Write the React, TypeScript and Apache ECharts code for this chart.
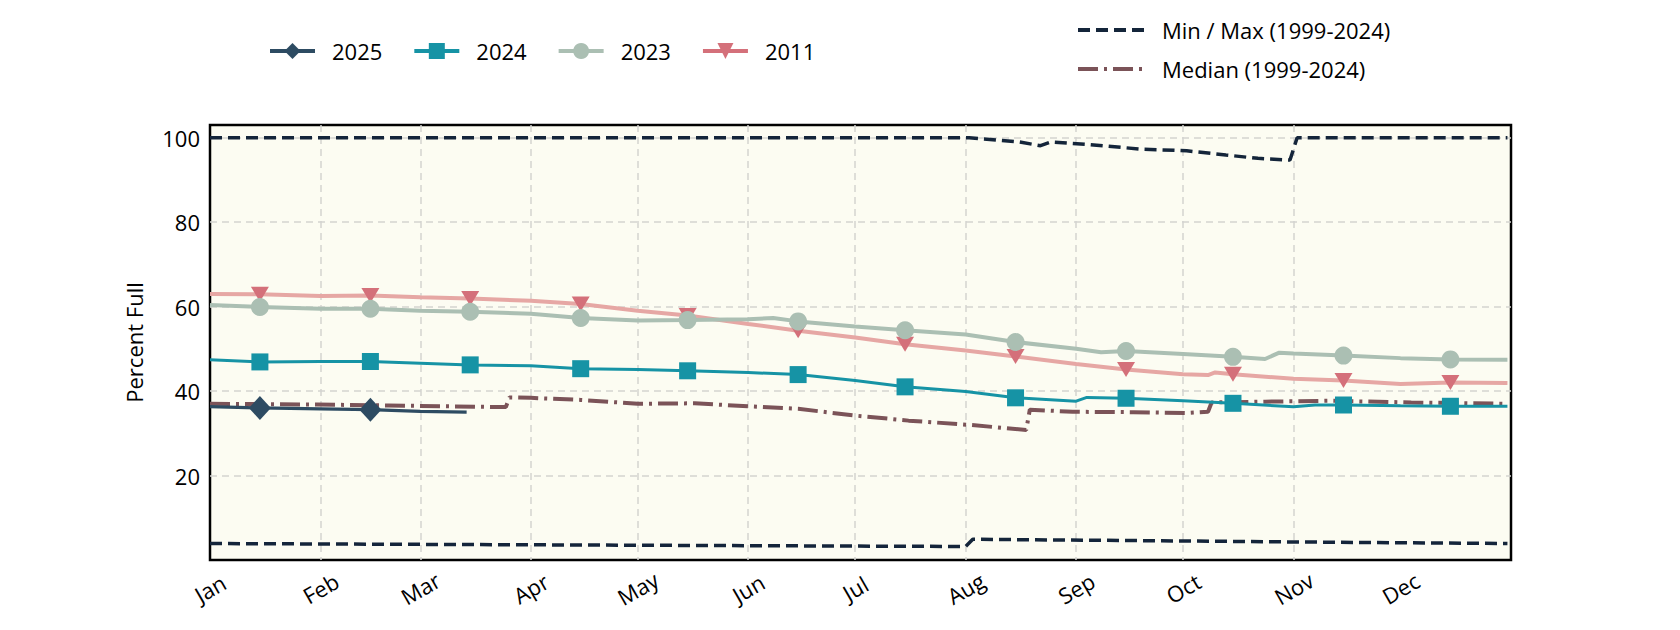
import React, { useEffect, useRef } from "react";
import * as echarts from "echarts";

// ---- axes ----
const monthStarts = [0, 31, 59, 90, 120, 151, 181, 212, 243, 273, 304, 334];
const monthNames = ["Jan", "Feb", "Mar", "Apr", "May", "Jun", "Jul", "Aug", "Sep", "Oct", "Nov", "Dec"];
const markerDays = [14, 45, 73, 104, 134, 165, 195, 226, 257, 287, 318, 348];

// ---- series (day of year, percent full) ----
const days2025 = [0, 14, 31, 45, 59, 72];
const vals2025 = [36.3, 36.0, 35.8, 35.6, 35.2, 35.0];

const days2024 = [0, 14, 31, 45, 59, 73, 90, 104, 120, 134, 151, 165, 181, 195, 212, 226, 243, 246, 257, 273, 287, 304, 310, 318, 334, 348, 364];
const vals2024 = [47.4, 46.9, 47.0, 47.0, 46.6, 46.2, 46.0, 45.3, 45.1, 44.8, 44.4, 43.9, 42.5, 41.0, 39.9, 38.4, 37.6, 38.5, 38.3, 37.7, 37.1, 36.3, 36.7, 36.7, 36.5, 36.4, 36.4];

const days2023 = [0, 14, 31, 45, 59, 73, 90, 104, 120, 134, 151, 158, 165, 181, 195, 212, 226, 243, 250, 257, 273, 287, 296, 300, 304, 318, 334, 348, 364];
const vals2023 = [60.4, 59.9, 59.5, 59.5, 59.0, 58.8, 58.3, 57.3, 56.7, 56.8, 57.0, 57.3, 56.5, 55.3, 54.4, 53.4, 51.6, 50.0, 49.2, 49.5, 48.8, 48.1, 47.6, 49.1, 48.9, 48.4, 47.8, 47.5, 47.4];

const days2011 = [0, 14, 31, 45, 59, 73, 90, 104, 120, 134, 151, 165, 181, 195, 212, 226, 243, 257, 273, 280, 282, 287, 304, 318, 334, 348, 364];
const vals2011 = [63.0, 62.9, 62.5, 62.6, 62.2, 61.9, 61.4, 60.6, 59.0, 57.9, 55.9, 54.3, 52.7, 51.1, 49.6, 48.2, 46.4, 45.1, 44.0, 43.8, 44.4, 44.0, 42.9, 42.5, 41.7, 42.0, 41.9];

const daysMedian = [0, 30, 50, 83, 84, 90, 104, 120, 136, 151, 165, 181, 196, 213, 229, 230, 242, 259, 274, 280, 281, 296, 314, 337, 364];
const valsMedian = [37.0, 36.8, 36.6, 36.2, 38.5, 38.4, 37.9, 37.0, 37.1, 36.4, 35.8, 34.2, 33.0, 32.0, 30.8, 35.6, 35.1, 35.0, 34.8, 35.1, 37.3, 37.5, 37.7, 37.3, 37.0];

const daysMax = [0, 213, 227, 233, 236, 246, 261, 274, 285, 294, 303, 305, 364];
const valsMax = [100, 100, 99.0, 98.1, 99.0, 98.4, 97.3, 96.9, 95.9, 95.1, 94.7, 100, 100];

const daysMin = [0, 60, 120, 180, 212, 214, 260, 300, 364];
const valsMin = [3.9, 3.7, 3.5, 3.3, 3.2, 4.9, 4.6, 4.3, 3.9];

const MINMAX = "Min / Max (1999-2024)";
const MEDIAN = "Median (1999-2024)";
const FONT = "'Open Sans', 'Noto Sans', sans-serif";

function markerData(days: number[], vals: number[]) {
  return days.map((d, i) =>
    markerDays.includes(d) ? { value: [d, vals[i]] } : { value: [d, vals[i]], symbol: "none" }
  );
}
function plainData(days: number[], vals: number[]) {
  return days.map((d, i) => [d, vals[i]]);
}

export default function App() {
  const ref = useRef<HTMLDivElement>(null);
  useEffect(() => {
    if (!ref.current) return;
    const chart = echarts.init(ref.current, null, { renderer: "svg" });
    const gridLine = {
      show: true, showMinLine: false, showMaxLine: false,
      lineStyle: { color: "#d4d4cf", type: [7, 5], width: 1.5 },
    };
    const option: any = {
      animation: false,
      backgroundColor: "#ffffff",
      textStyle: { fontFamily: FONT },
      grid: {
        left: 210, right: 169, top: 125, bottom: 70, show: true,
        backgroundColor: "#fcfcf2", borderColor: "#000", borderWidth: 2.5,
      },
      legend: [
        {
          left: 263, top: 35, itemWidth: 45, itemHeight: 20, itemGap: 30,
          lineStyle: { width: 4 },
          textStyle: { fontSize: 22, color: "#000", fontFamily: FONT, padding: [0, 0, 0, 12] },
          data: [
            { name: "2025" },
            { name: "2024" },
            { name: "2023" },
            { name: "2011", lineStyle: { color: "#d4707a", width: 4 } },
          ],
        },
        {
          left: 1071, top: 14, orient: "vertical", itemWidth: 66, itemHeight: 20, itemGap: 17,
          lineStyle: { width: 4 },
          textStyle: { fontSize: 22, color: "#000", fontFamily: FONT, padding: [0, 0, 0, 13] },
          data: [
            { name: MINMAX, itemStyle: { opacity: 0 } },
            { name: MEDIAN, itemStyle: { opacity: 0 } },
          ],
        },
      ],
      xAxis: {
        type: "value", min: 0, max: 365,
        axisLine: { show: false },
        axisTick: { show: false, customValues: monthStarts },
        axisLabel: {
          customValues: monthStarts,
          formatter: (v: number) => monthNames[monthStarts.indexOf(v)] ?? "",
          rotate: 30, align: "center", verticalAlign: "middle", margin: 28,
          fontSize: 22, color: "#000", fontFamily: FONT,
        },
        splitLine: gridLine,
      },
      yAxis: {
        type: "value", min: 0, max: 103, interval: 20,
        axisLine: { show: false },
        axisTick: { show: false },
        axisLabel: {
          formatter: (v: number) => (v === 0 || v % 20 !== 0 ? "" : String(v)),
          fontSize: 22, margin: 10, color: "#000", fontFamily: FONT,
        },
        splitLine: gridLine,
        name: "Percent Full", nameLocation: "middle", nameGap: 65, nameRotate: 90,
        nameTextStyle: { fontSize: 22, color: "#000", fontFamily: FONT },
      },
      series: [
        {
          name: MINMAX, type: "line", z: 1, symbol: "none",
          lineStyle: { color: "#14253a", width: 3.5, type: [12, 6] },
          itemStyle: { color: "#14253a" },
          data: plainData(daysMax, valsMax),
        },
        {
          name: MINMAX, type: "line", z: 1, symbol: "none",
          lineStyle: { color: "#14253a", width: 3.5, type: [12, 6] },
          itemStyle: { color: "#14253a" },
          data: plainData(daysMin, valsMin),
        },
        {
          name: MEDIAN, type: "line", z: 1, symbol: "none",
          lineStyle: { color: "#7b5358", width: 4, type: [20, 6, 3, 6] },
          itemStyle: { color: "#7b5358" },
          data: plainData(daysMedian, valsMedian),
        },
        {
          name: "2011", type: "line", z: 2,
          symbol: "path://M0,0L10,0L5,9Z", symbolSize: [18, 15],
          itemStyle: { color: "#d4707a" },
          lineStyle: { color: "#e6a7a4", width: 4 },
          data: markerData(days2011, vals2011),
        },
        {
          name: "2023", type: "line", z: 3,
          symbol: "circle", symbolSize: 18,
          itemStyle: { color: "#abbfb3" },
          lineStyle: { color: "#abbfb3", width: 4 },
          data: markerData(days2023, vals2023),
        },
        {
          name: "2024", type: "line", z: 4,
          symbol: "rect", symbolSize: 17,
          itemStyle: { color: "#1693a5" },
          lineStyle: { color: "#1693a5", width: 3 },
          data: markerData(days2024, vals2024),
        },
        {
          name: "2025", type: "line", z: 5,
          symbol: "diamond", symbolSize: [22, 24],
          itemStyle: { color: "#2d4b62" },
          lineStyle: { color: "#2d4b62", width: 3.3 },
          data: markerData(days2025, vals2025),
        },
      ],
    };
    chart.setOption(option);
    return () => chart.dispose();
  }, []);
  return (
    <div
      ref={ref}
      style={{ position: "fixed", left: 0, top: 0, width: 1680, height: 630 }}
    />
  );
}
